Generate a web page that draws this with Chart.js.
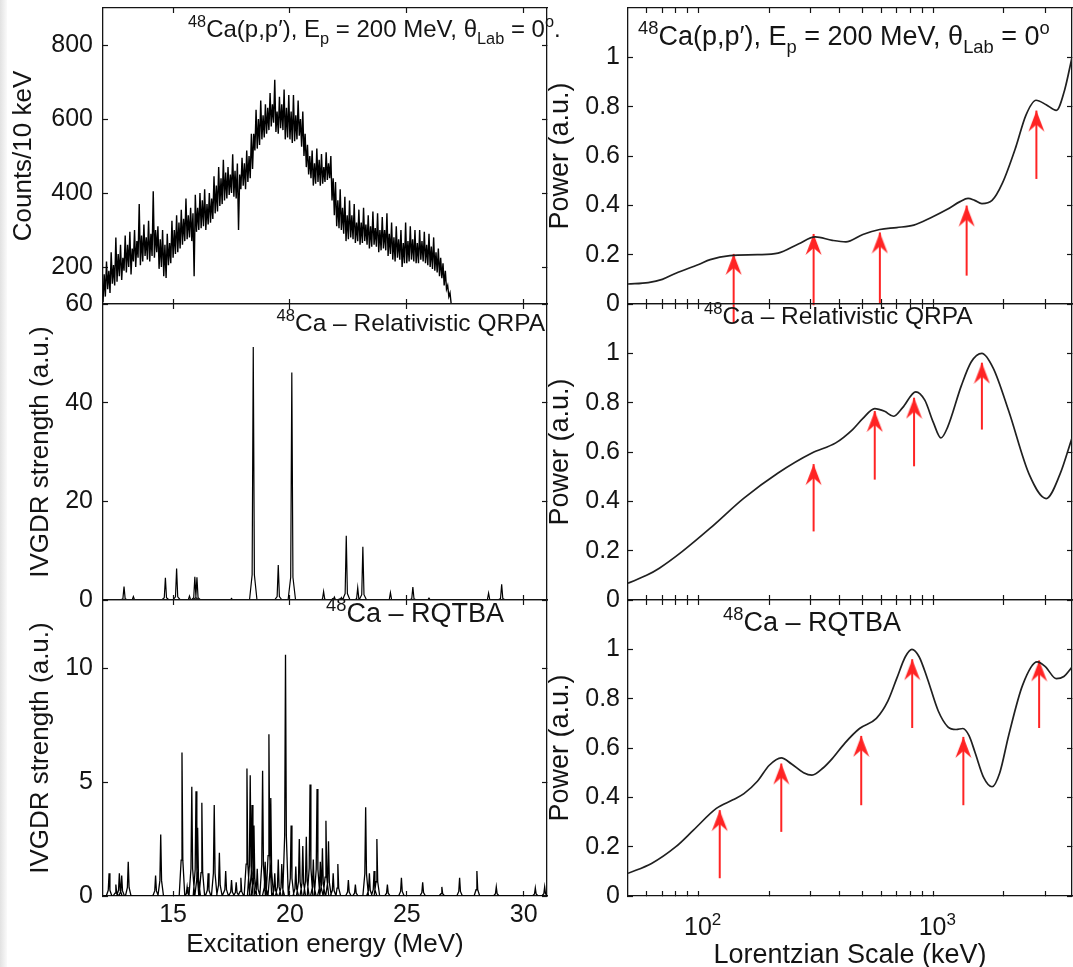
<!DOCTYPE html>
<html>
<head>
<meta charset="utf-8">
<title>48Ca IVGDR strength and Lorentzian-scale power</title>
<script src="https://cdn.jsdelivr.net/npm/chart.js@4.4.1/dist/chart.umd.min.js"></script>
<style>
  html, body { margin: 0; padding: 0; background: #fff; overflow: hidden; }
  body { position: relative; width: 1073px; height: 967px; }
  canvas { position: absolute; }
  .edge { position: absolute; left: 0; top: 0; width: 7px; height: 967px; background: linear-gradient(to right, #e2e2e2, #fafafa); }
  .note { position: absolute; font-family: "Liberation Sans", Arial, Helvetica, sans-serif; color: #151515; white-space: nowrap; line-height: 1; }
  .note .up { font-size: 0.68em; position: relative; top: -0.6em; }
  .note .dn { font-size: 0.68em; position: relative; top: 0.45em; }
  .tick { transform: translateX(-50%); }
</style>
</head>
<body>
<div class="edge"></div>
<canvas id="expSpectrum" width="575" height="356" style="left:0;top:-22px"></canvas>
<canvas id="qrpaSpectrum" width="575" height="356" style="left:0;top:274px"></canvas>
<canvas id="rqtbaSpectrum" width="575" height="394" style="left:0;top:570px"></canvas>
<canvas id="expPower" width="545" height="356" style="left:540px;top:-22px"></canvas>
<canvas id="qrpaPower" width="545" height="356" style="left:540px;top:274px"></canvas>
<canvas id="rqtbaPower" width="545" height="404" style="left:540px;top:570px"></canvas>

<div class="note" style="left:188px;top:17px;font-size:24px"><span class="up">48</span>Ca(p,p′), E<span class="dn">p</span> = 200 MeV, θ<span class="dn">Lab</span> = 0<span class="up">o</span>.</div>
<div class="note" style="left:638px;top:23px;font-size:27px"><span class="up">48</span>Ca(p,p′), E<span class="dn">p</span> = 200 MeV, θ<span class="dn">Lab</span> = 0<span class="up">o</span></div>
<div class="note" style="right:528px;top:311px;font-size:24.5px"><span class="up">48</span>Ca – Relativistic QRPA</div>
<div class="note" style="left:704px;top:304px;font-size:24.5px"><span class="up">48</span>Ca – Relativistic QRPA</div>
<div class="note" style="left:326px;top:600px;font-size:27px"><span class="up">48</span>Ca – RQTBA</div>
<div class="note" style="left:723px;top:609px;font-size:27px"><span class="up">48</span>Ca – RQTBA</div>

<script>
const FONT = '"Liberation Sans", Arial, Helvetica, sans-serif';
const INK = '#141414';
const RED = '#ff2424';

// tick values
const energyTicks = [15, 20, 25, 30];
const countTicks = [200, 400, 600, 800];
const qrpaTicks = [0, 20, 40, 60];
const rqtbaTicks = [0, 5, 10];
const powerTicks = [0, 0.2, 0.4, 0.6, 0.8, 1];
const scaleTicks = [60, 70, 80, 90, 100, 200, 300, 400, 500, 600, 700, 800, 900, 1000, 2000, 3000];
const scaleDecades = [100, 1000];
const scaleDecadeExp = ['2', '3'];

// measured spectrum, one reading every 0.05 MeV from 12.0 MeV
const expStart = 12.0;
const expStep = 0.05;
const expCounts = [
  105, 180, 120, 215, 140, 190, 130, 240, 155, 205, 150, 280, 160, 235, 175, 260, 165, 225, 190, 285,
  185, 260, 200, 295, 180, 250, 215, 300, 200, 270, 225, 370, 205, 285, 215, 315, 230, 280, 220, 325,
  215, 290, 230, 405, 225, 300, 240, 310, 195, 275, 200, 300, 175, 260, 170, 290, 205, 265, 210, 325,
  225, 300, 235, 340, 240, 320, 250, 355, 260, 330, 270, 385, 275, 340, 280, 360, 270, 345, 175, 395,
  295, 360, 300, 400, 305, 380, 310, 410, 300, 370, 315, 400, 320, 385, 330, 445, 345, 420, 350, 470,
  365, 440, 370, 490, 380, 455, 385, 470, 395, 450, 400, 505, 390, 460, 385, 480, 300, 450, 410, 495,
  420, 480, 410, 515, 430, 500, 440, 560, 465, 560, 515, 625, 520, 600, 530, 650, 545, 610, 550, 640,
  560, 630, 570, 670, 580, 640, 590, 706, 565, 620, 560, 660, 575, 640, 570, 680, 545, 630, 550, 665,
  545, 620, 535, 665, 540, 610, 545, 650, 555, 600, 525, 620, 500, 560, 470, 530, 450, 500, 440, 515,
  420, 480, 425, 520, 430, 490, 420, 505, 425, 470, 430, 510, 435, 480, 440, 500, 380, 440, 340, 430,
  310, 380, 305, 410, 300, 360, 290, 390, 270, 340, 275, 380, 280, 340, 275, 370, 265, 320, 270, 355,
  260, 320, 265, 360, 270, 315, 260, 340, 250, 310, 255, 350, 260, 305, 255, 345, 240, 300, 245, 335,
  250, 300, 245, 345, 230, 290, 235, 320, 220, 280, 215, 310, 225, 275, 220, 300, 200, 265, 210, 320,
  210, 270, 215, 310, 220, 275, 215, 300, 210, 265, 210, 300, 220, 270, 215, 295, 210, 260, 205, 290,
  200, 255, 195, 280, 190, 240, 185, 250, 175, 225, 170, 210, 150, 190, 140, 150, 120, 130, 100, 70,
  40
];

// relativistic QRPA lines (MeV, strength)
const qrpaE = [12.9, 13.3, 14.67, 15.15, 15.7, 15.93, 16.02, 17.5, 18.43, 19.5, 20.08, 21.44, 21.9, 22.2, 22.41, 22.9, 23.12, 24.3, 25.26, 25.95, 28.5, 29.06];
const qrpaS = [2.7, 0.7, 4.5, 6.4, 0.8, 4.7, 4.6, 0.3, 51.3, 7.1, 46.1, 1.7, 0.6, 0.5, 13.0, 2.5, 10.8, 1.5, 2.6, 0.4, 1.4, 3.2];

// RQTBA lines (MeV, strength)
const rqtbaE = [12.26, 12.55, 12.7, 12.8, 13.08, 14.25, 14.47, 15.38, 15.6, 15.8, 15.98, 16.05, 16.23, 16.5, 16.76, 16.98, 17.25, 17.5, 17.7, 17.9,
  18.16, 18.3, 18.38, 18.46, 18.6, 18.83, 18.94, 19.1, 19.18, 19.35, 19.5, 19.65, 19.81, 20.05, 20.25, 20.4, 20.55, 20.7, 20.86, 21.0,
  21.16, 21.3, 21.39, 21.54, 21.65, 21.85, 22.05, 22.5, 22.8, 23.24, 23.4, 23.6, 23.72, 24.17, 24.77, 25.68, 26.5, 27.26, 28.0, 28.83, 30.5, 30.9];
const rqtbaS = [1.0, 0.5, 1.0, 0.9, 1.5, 0.9, 2.7, 6.3, 0.4, 4.8, 4.6, 3.0, 4.1, 1.0, 4.0, 1.9, 1.1, 0.7, 0.6, 0.8,
  5.6, 5.3, 4.0, 3.1, 1.2, 5.5, 1.5, 7.1, 4.3, 1.0, 1.6, 1.4, 10.6, 3.1, 1.3, 2.5, 2.2, 2.6, 4.9, 1.6,
  4.7, 1.5, 2.1, 3.3, 2.4, 1.0, 1.4, 0.7, 0.5, 3.9, 1.0, 1.1, 2.5, 0.5, 0.8, 0.6, 0.4, 0.8, 1.1, 0.4, 0.35, 0.4];

// power vs Lorentzian scale (keV)
const expKeV = [50, 61, 70, 80, 100, 112, 136, 178, 218, 266, 314, 371, 424, 501, 591, 698, 826, 976, 1153, 1300, 1406, 1500, 1611, 1780, 1970, 2245, 2480, 2740, 3027, 3345, 3633, 3900];
const expPower = [0.081, 0.087, 0.100, 0.125, 0.160, 0.180, 0.196, 0.200, 0.206, 0.243, 0.272, 0.258, 0.252, 0.282, 0.302, 0.310, 0.320, 0.350, 0.385, 0.415, 0.428, 0.420, 0.407, 0.420, 0.490, 0.635, 0.765, 0.826, 0.808, 0.785, 0.870, 1.0];

const qrpaKeV = [50, 60, 68, 85, 112, 156, 218, 304, 384, 453, 500, 563, 620, 676, 740, 842, 920, 1000, 1078, 1150, 1318, 1450, 1611, 1800, 2096, 2565, 3027, 3460, 3900];
const qrpaPower = [0.068, 0.100, 0.129, 0.196, 0.291, 0.413, 0.515, 0.596, 0.637, 0.691, 0.735, 0.776, 0.765, 0.745, 0.780, 0.844, 0.810, 0.720, 0.657, 0.700, 0.870, 0.965, 1.0, 0.940, 0.766, 0.508, 0.411, 0.508, 0.657];

const rqtbaKeV = [50, 63, 80, 95, 119, 140, 156, 178, 200, 225, 249, 280, 304, 340, 371, 420, 485, 572, 640, 698, 760, 811, 870, 944, 1050, 1153, 1250, 1337, 1420, 1504, 1640, 1780, 1920, 2096, 2400, 2770, 3000, 3345, 3600, 3900];
const rqtbaPower = [0.092, 0.132, 0.200, 0.267, 0.355, 0.390, 0.415, 0.465, 0.530, 0.560, 0.535, 0.500, 0.490, 0.520, 0.557, 0.620, 0.679, 0.720, 0.790, 0.881, 0.970, 1.0, 0.970, 0.881, 0.750, 0.686, 0.675, 0.679, 0.650, 0.584, 0.480, 0.443, 0.500, 0.652, 0.854, 0.949, 0.930, 0.881, 0.890, 0.928];

// red arrows: scale (keV), tip and foot (power)
const expArrowKeV = [141, 309, 592, 1387, 2750];
const expArrowTip = [0.203, 0.284, 0.290, 0.399, 0.784];
const expArrowFoot = [-0.077, -0.005, 0, 0.115, 0.507];
const qrpaArrowKeV = [309, 563, 828, 1611];
const qrpaArrowTip = [0.551, 0.766, 0.820, 0.962];
const qrpaArrowFoot = [0.278, 0.488, 0.542, 0.691];
const rqtbaArrowKeV = [123, 225, 493, 813, 1343, 2825];
const rqtbaArrowTip = [0.348, 0.537, 0.649, 0.960, 0.645, 0.955];
const rqtbaArrowFoot = [0.072, 0.260, 0.368, 0.681, 0.368, 0.681];

Chart.defaults.font.family = FONT;
Chart.defaults.color = INK;

// arrow head image, tip sits at the centre of the canvas
const head = document.createElement('canvas');
head.width = 17;
head.height = 46;
(function () {
  const g = head.getContext('2d');
  g.fillStyle = RED;
  g.beginPath();
  g.moveTo(8.5, 23);
  g.lineTo(16.5, 44);
  g.lineTo(8.5, 37);
  g.lineTo(0.5, 44);
  g.closePath();
  g.fill();
})();

function axis(position, type, min, max, ticks, o) {
  o = o || {};
  const side = position === 'left' || position === 'right' ? 'width' : 'height';
  return {
    type: type,
    position: position,
    min: min,
    max: max,
    bounds: 'data',
    afterBuildTicks: s => { s.ticks = ticks.map(v => ({ value: v })); },
    afterFit: s => { s[side] = o.size || 0; },
    border: { display: true, color: INK, width: 1.3 },
    grid: { drawOnChartArea: false, drawTicks: true, tickLength: -5, tickColor: INK, tickWidth: 1.2 },
    ticks: {
      display: !!o.label,
      autoSkip: false,
      maxRotation: 0,
      padding: o.pad || 0,
      color: INK,
      font: { family: FONT, size: 25 },
      callback: o.label || (() => ''),
    },
    title: o.title
      ? { display: true, text: o.title, color: INK, font: { family: FONT, size: o.titleSize || 26 }, padding: o.titlePad }
      : { display: false },
  };
}

function peakLine(energies, strengths, halfWidth, shoulder) {
  const pts = [{ x: 12, y: 0 }];
  energies.forEach((e, i) => {
    const s = strengths[i];
    pts.push({ x: e - halfWidth, y: 0 });
    pts.push({ x: e - halfWidth * 0.3, y: s * shoulder });
    pts.push({ x: e, y: s });
    pts.push({ x: e + halfWidth * 0.3, y: s * shoulder });
    pts.push({ x: e + halfWidth, y: 0 });
  });
  pts.push({ x: 31, y: 0 });
  return pts;
}

function curve(keV, power) {
  return {
    data: keV.map((k, i) => ({ x: k, y: power[i] })),
    borderColor: '#202020',
    borderWidth: 1.7,
    pointRadius: 0,
    cubicInterpolationMode: 'monotone',
  };
}

function arrows(keV, tips, feet) {
  return keV.map((k, i) => ({
    data: [{ x: k, y: feet[i] }, { x: k, y: tips[i] }],
    borderColor: RED,
    borderWidth: 2,
    pointRadius: [0, 4],
    pointStyle: head,
    clip: false,
  }));
}

function panel(id, datasets, pad, scales) {
  return new Chart(document.getElementById(id), {
    type: 'line',
    data: { datasets: datasets },
    options: {
      responsive: false,
      animation: false,
      devicePixelRatio: 1,
      layout: { padding: pad },
      plugins: { legend: { display: false }, tooltip: { enabled: false } },
      scales: scales,
    },
  });
}

const num = v => String(v);
const yTitlePad = { top: 5, bottom: 0 };

// left column: strength distributions
panel('expSpectrum', [{
  data: expCounts.map((c, i) => ({ x: expStart + i * expStep, y: c })),
  borderColor: '#000',
  borderWidth: 1.4,
  pointRadius: 0,
}], { left: 3, top: 30, right: 28, bottom: 30 }, {
  x: axis('bottom', 'linear', 12, 31, energyTicks),
  xTop: axis('top', 'linear', 12, 31, energyTicks),
  y: axis('left', 'linear', 100, 900, countTicks, { size: 100, pad: 15, label: num, title: 'Counts/10 keV', titlePad: yTitlePad }),
  yRight: axis('right', 'linear', 100, 900, countTicks),
});

panel('qrpaSpectrum', [{
  data: peakLine(qrpaE, qrpaS, 0.16, 0.1),
  borderColor: '#000',
  borderWidth: 1.2,
  pointRadius: 0,
}], { left: 20, top: 30, right: 28, bottom: 30 }, {
  x: axis('bottom', 'linear', 12, 31, energyTicks),
  xTop: axis('top', 'linear', 12, 31, energyTicks),
  y: axis('left', 'linear', 0, 60, qrpaTicks, { size: 83, pad: 15, label: num, title: 'IVGDR strength (a.u.)', titlePad: yTitlePad }),
  yRight: axis('right', 'linear', 0, 60, qrpaTicks),
});

panel('rqtbaSpectrum', [{
  data: peakLine(rqtbaE, rqtbaS, 0.12, 0.25),
  borderColor: '#000',
  borderWidth: 1.3,
  pointRadius: 0,
}], { left: 20, top: 30, right: 28, bottom: 0 }, {
  x: axis('bottom', 'linear', 12, 31, energyTicks, { size: 68, pad: 9, label: num, title: 'Excitation energy (MeV)', titlePad: { top: 0, bottom: 4 } }),
  xTop: axis('top', 'linear', 12, 31, energyTicks),
  y: axis('left', 'linear', 0, 13, rqtbaTicks, { size: 83, pad: 15, label: num, title: 'IVGDR strength (a.u.)', titlePad: yTitlePad }),
  yRight: axis('right', 'linear', 0, 13, rqtbaTicks),
});

// right column: power spectra
const powerAxis = () => axis('left', 'linear', 0, 1.2, powerTicks, { size: 88, pad: 13, label: num, title: 'Power (a.u.)', titleSize: 27, titlePad: { top: 4, bottom: 0 } });

panel('expPower', [curve(expKeV, expPower)].concat(arrows(expArrowKeV, expArrowTip, expArrowFoot)),
  { left: 0, top: 30, right: 13, bottom: 30 }, {
  x: axis('bottom', 'logarithmic', 50, 3900, scaleTicks),
  xTop: axis('top', 'logarithmic', 50, 3900, scaleTicks),
  y: powerAxis(),
  yRight: axis('right', 'linear', 0, 1.2, powerTicks),
});

panel('qrpaPower', [curve(qrpaKeV, qrpaPower)].concat(arrows(qrpaArrowKeV, qrpaArrowTip, qrpaArrowFoot)),
  { left: 0, top: 30, right: 13, bottom: 30 }, {
  x: axis('bottom', 'logarithmic', 50, 3900, scaleTicks),
  xTop: axis('top', 'logarithmic', 50, 3900, scaleTicks),
  y: powerAxis(),
  yRight: axis('right', 'linear', 0, 1.2, powerTicks),
});

const lastPower = panel('rqtbaPower', [curve(rqtbaKeV, rqtbaPower)].concat(arrows(rqtbaArrowKeV, rqtbaArrowTip, rqtbaArrowFoot)),
  { left: 0, top: 30, right: 13, bottom: 0 }, {
  x: axis('bottom', 'logarithmic', 50, 3900, scaleTicks, { size: 78, pad: 20, label: () => '', title: 'Lorentzian Scale (keV)', titleSize: 27, titlePad: { top: 0, bottom: 2 } }),
  xTop: axis('top', 'logarithmic', 50, 3900, scaleTicks),
  y: powerAxis(),
  yRight: axis('right', 'linear', 0, 1.2, powerTicks),
});

// decade labels with a real superscript, placed by the log scale
scaleDecades.forEach((v, i) => {
  const el = document.createElement('div');
  el.className = 'note tick';
  el.style.fontSize = '25px';
  el.style.left = (540 + lastPower.scales.x.getPixelForValue(v) + 4) + 'px';
  el.style.top = '914px';
  el.innerHTML = '10<span class="up">' + scaleDecadeExp[i] + '</span>';
  document.body.appendChild(el);
});
</script>
</body>
</html>
